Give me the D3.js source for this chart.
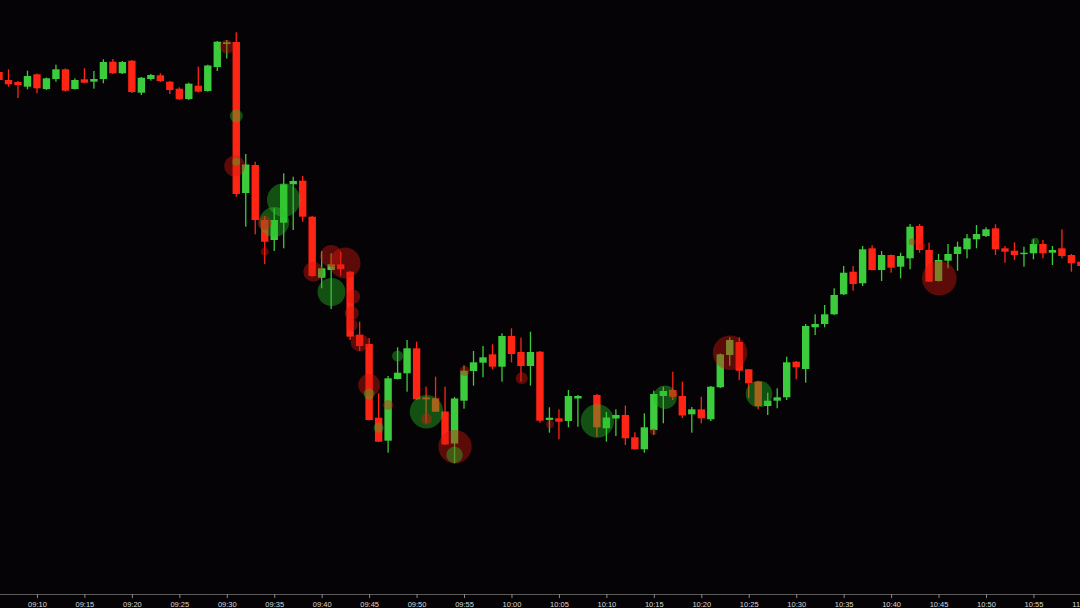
<!DOCTYPE html>
<html><head><meta charset="utf-8">
<script src="https://cdn.jsdelivr.net/npm/d3@7"></script>
<style>html,body{margin:0;padding:0;background:#050305;overflow:hidden}svg{display:block}</style>
</head><body><svg id="c" width="1080" height="608"></svg>
<script>
// ---- candle data (1-minute bars) ----
const times = ["09:06","09:07","09:08","09:09","09:10","09:11","09:12","09:13","09:14","09:15",
"09:16","09:17","09:18","09:19","09:20","09:21","09:22","09:23","09:24","09:25",
"09:26","09:27","09:28","09:29","09:30","09:31","09:32","09:33","09:34","09:35",
"09:36","09:37","09:38","09:39","09:40","09:41","09:42","09:43","09:44","09:45",
"09:46","09:47","09:48","09:49","09:50","09:51","09:52","09:53","09:54","09:55",
"09:56","09:57","09:58","09:59","10:00","10:01","10:02","10:03","10:04","10:05",
"10:06","10:07","10:09","10:10","10:11","10:12","10:13","10:14","10:15",
"10:16","10:17","10:18","10:19","10:20","10:21","10:22","10:23","10:24","10:25",
"10:26","10:27","10:28","10:29","10:30","10:31","10:32","10:33","10:34","10:35",
"10:36","10:37","10:38","10:39","10:40","10:41","10:42","10:43","10:44","10:45",
"10:46","10:47","10:48","10:49","10:50","10:51","10:52","10:53","10:54","10:55",
"10:56","10:57","10:58","10:59","11:00"];
const open = [102.8,102.0,101.8,101.33,102.57,101.1,102.1,103.07,101.1,102.07,
101.83,102.1,103.83,102.67,103.93,100.73,102.1,102.47,101.83,101.13,
100.1,101.43,100.9,103.3,105.6,105.8,90.7,93.5,88.0,86.0,
87.73,91.57,91.93,88.33,82.23,83.0,83.57,82.83,76.5,75.6,
68.23,65.93,72.1,72.67,75.17,70.25,70.17,68.85,65.65,69.93,
72.9,73.73,74.57,73.33,76.4,74.8,73.4,74.83,68.0,68.17,
67.9,70.15,70.5,67.17,68.15,68.5,66.27,65.07,67.0,
70.4,71.0,70.4,68.57,69.07,68.07,71.27,74.5,75.8,73.07,
71.83,69.4,69.93,70.27,73.83,73.1,77.27,77.6,78.57,80.57,
82.83,81.67,85.17,83.0,84.5,83.33,84.17,87.4,85.0,81.9,
83.93,84.6,85.07,86.07,86.4,87.17,85.17,84.93,84.6,84.67,
85.6,84.73,85.17,84.5,83.83];
const high = [103.0,103.07,101.9,102.93,102.65,102.25,103.53,103.15,102.17,103.17,
102.9,104.07,104.1,103.9,104.0,102.3,102.6,102.67,101.9,101.27,
101.73,103.33,103.53,105.9,106.0,106.77,94.6,93.83,88.4,89.17,
92.67,92.33,92.4,88.4,84.9,84.67,84.83,82.9,77.83,76.2,
70.67,72.4,75.27,76.0,75.83,71.33,72.33,71.33,70.3,73.45,
74.9,75.4,75.57,76.67,77.17,76.23,76.83,74.9,69.27,69.07,
71.0,70.5,70.6,68.8,69.07,69.45,66.77,68.67,70.93,
71.33,72.83,71.83,69.3,70.33,71.4,74.65,76.27,76.27,73.1,
71.93,70.73,71.17,74.33,73.9,77.6,78.57,79.5,81.17,83.4,
83.4,85.4,85.47,84.9,84.55,84.73,87.6,87.6,85.73,84.6,
85.6,85.83,86.6,87.5,87.27,87.57,85.4,85.77,85.33,86.07,
86.0,85.4,87.07,84.6,84.0];
const low = [101.8,101.33,100.2,101.07,100.67,101.0,101.83,100.85,101.05,101.7,
101.13,101.67,102.6,102.6,100.7,100.5,101.93,101.8,100.6,100.0,
100.0,100.75,100.83,102.9,104.15,90.33,87.33,86.57,83.6,84.9,
85.17,87.0,87.83,82.33,81.17,79.1,82.4,76.0,74.9,67.95,
65.8,64.73,72.05,70.83,70.0,67.67,68.8,65.5,63.67,69.13,
71.43,72.27,73.07,71.83,73.77,71.83,71.43,67.73,66.73,66.07,
67.27,67.33,66.3,65.83,66.4,65.5,65.05,64.73,66.5,
67.67,70.0,68.2,66.73,67.67,67.9,71.2,73.43,72.0,70.2,
69.07,68.5,69.17,70.0,72.07,71.73,76.5,77.27,78.5,80.5,
80.93,81.4,82.95,81.9,82.73,82.17,83.07,84.73,81.8,81.85,
83.17,82.93,84.17,85.17,86.3,84.5,83.73,84.0,83.33,84.07,
84.17,83.5,84.17,82.83,83.2];
const close = [102.0,101.57,101.5,102.4,101.17,102.17,103.07,100.93,102.0,101.73,
102.1,103.8,102.67,103.8,100.8,102.23,102.5,101.9,101.0,100.07,
101.63,100.83,103.45,105.83,105.77,90.6,93.55,88.0,85.83,88.0,
91.57,91.9,88.33,82.4,83.17,83.57,83.07,76.33,75.4,68.0,
65.83,72.17,72.73,75.17,70.07,70.07,68.83,65.55,70.15,72.93,
73.77,74.27,73.33,76.4,74.6,73.4,74.8,67.93,68.23,67.83,
70.4,70.4,67.27,68.25,68.5,66.17,65.07,67.27,70.6,
70.9,70.33,68.45,69.07,68.17,71.33,74.57,76.0,72.93,71.67,
69.4,69.93,70.27,73.77,73.27,77.4,77.6,78.57,80.5,82.73,
81.6,85.07,83.0,84.5,83.23,84.4,87.33,85.0,81.83,84.0,
84.6,85.33,86.17,86.6,87.07,85.07,84.83,84.5,84.73,85.6,
84.67,85.0,84.4,83.67,83.4];

// ---- trade bubbles ----
const bubbleTimes = ["09:30:00","09:31:00","09:30:50","09:31:00","09:36:00","09:35:00","09:34:00","09:34:00",
"09:39:07","09:41:00","09:42:28","09:41:02","09:43:20","09:43:10","09:43:10","09:44:00","09:45:00","09:45:00",
"09:46:00","09:47:00","09:48:00","09:51:03","09:51:03","09:54:03","09:54:00","09:55:04","10:01:05","10:04:04",
"10:09:03","10:14:57","10:16:11","10:17:03","10:23:02","10:26:05","10:45:05","10:42:14","10:43:14","10:55:10","09:40:02"];
const bubblePrices = [105.33,98.4,93.4,93.83,90.0,87.8,87.7,84.83,
82.83,84.4,83.7,80.8,80.33,78.67,77.5,75.75,71.5,70.6,
67.23,69.5,74.4,68.83,68.1,65.33,64.5,72.9,72.17,67.57,
67.9,66.83,70.27,70.6,74.73,70.6,82.17,85.83,85.4,85.83,82.6];
const bubbleSizes = [490,423,1100,160,2800,2250,490,160,
1000,1210,2400,1960,490,490,361,810,1210,303,
250,250,303,2800,303,2800,690,250,361,160,
2800,109,1370,160,3000,1770,3000,123,123,160,160];
const bubbleSides = ["S","B","S","B","B","B","S","S",
"S","S","S","B","S","S","S","S","S","B",
"B","S","B","B","S","S","B","S","S","S",
"B","S","B","S","S","B","S","S","S","B","B"];

const tickTimes = ["09:10","09:15","09:20","09:25","09:30","09:35","09:40","09:45","09:50","09:55",
"10:00","10:05","10:10","10:15","10:20","10:25","10:30","10:35","10:40","10:45","10:50","10:55","11:00"];

// ---- drawing ----
const W = 1080, H = 608;
const svg = d3.select("#c");
svg.append("rect").attr("width", W).attr("height", H).attr("fill", "#050305");

const pT = d3.timeParse("%H:%M"), pS = d3.timeParse("%H:%M:%S");
const x = d3.scaleTime().domain([pT("09:06"), pT("11:00")]).range([-1, 1080.9]);
const y = d3.scaleLinear().domain([50, 110]).range([600, 0]);
const r = d3.scaleSqrt().domain([0, 3000]).range([0, 17.3]);

const UP = "#3ccb3c", DN = "#ff2414";
const candles = times.map((t, i) => ({t: pT(t), o: open[i], h: high[i], l: low[i], c: close[i]}));
const bodyW = 7.4;

const g = svg.append("g");
const cg = g.selectAll("g.cdl").data(candles).join("g").attr("class", "cdl");
cg.append("rect")
  .attr("x", d => x(d.t) - 0.65).attr("width", 1.3)
  .attr("y", d => y(d.h)).attr("height", d => Math.max(1, y(d.l) - y(d.h)))
  .attr("fill", d => d.c >= d.o ? UP : DN);
cg.append("rect")
  .attr("x", d => x(d.t) - bodyW / 2).attr("width", bodyW)
  .attr("y", d => y(Math.max(d.o, d.c)))
  .attr("height", d => Math.max(1.5, Math.abs(y(d.o) - y(d.c))))
  .attr("fill", d => d.c >= d.o ? UP : DN);

const bubbles = bubbleTimes.map((t, i) => ({t: pS(t), p: bubblePrices[i], s: bubbleSizes[i], side: bubbleSides[i]}))
  .sort((a, b) => b.s - a.s);
g.selectAll("circle.bub").data(bubbles).join("circle").attr("class", "bub")
  .attr("cx", d => x(d.t)).attr("cy", d => y(d.p)).attr("r", d => r(d.s))
  .attr("fill", d => d.side === "B" ? "rgb(40,190,40)" : "rgb(215,25,15)")
  .attr("fill-opacity", 0.42);

const axis = d3.axisBottom(x)
  .tickValues(tickTimes.map(pT))
  .tickFormat(d3.timeFormat("%H:%M"))
  .tickSize(4).tickSizeOuter(0).tickPadding(3.5);
const ag = svg.append("g").attr("transform", "translate(0,594)").call(axis);
ag.select(".domain").attr("stroke", "#5a5a5a");
ag.selectAll(".tick line").attr("stroke", "#8a8a8a");
ag.selectAll(".tick text").attr("fill", "#d8d8d8")
  .style("font-family", "'Liberation Sans', Arial, sans-serif").style("font-size", "7.5px");
</script></body></html>
